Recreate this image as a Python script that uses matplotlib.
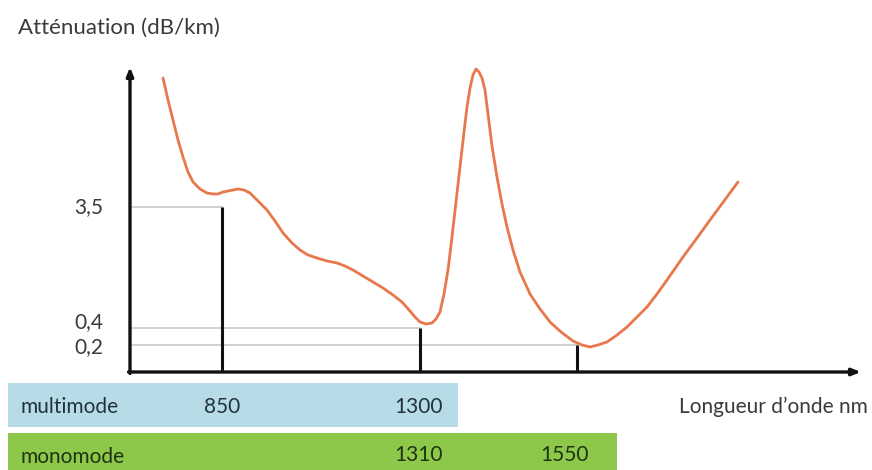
import matplotlib
matplotlib.use("Agg")
import matplotlib.pyplot as plt
from matplotlib.patches import Rectangle

plt.rcParams['font.family'] = ['Lato', 'DejaVu Sans']

# ---- data (schematic units: x along wavelength axis, y = height above the x axis) ----
curve_x = [163, 168, 173, 178, 183, 188, 193, 200, 207, 213, 218, 223, 228, 233, 238, 244,
           250, 258, 267, 275, 283, 292, 300, 308, 317, 327, 337, 345, 353, 363, 373, 383,
           393, 402, 410, 415, 420, 426, 432, 436, 440, 444, 448, 452, 456, 460, 464, 467,
           470, 473, 476, 479, 482, 485, 488, 492, 497, 502, 507, 513, 520, 530, 540, 550,
           561, 573, 582, 590, 598, 607, 617, 627, 637, 647, 657, 667, 683, 697, 710, 724, 738]
curve_y = [294, 272, 252, 232, 215, 200, 190, 183, 179, 178, 178, 180, 181, 182, 183, 182,
           179, 171, 162, 151, 139, 129, 122, 117, 114, 111, 109, 106, 102, 96, 90, 84,
           77, 70, 61, 55, 50, 48, 49, 53, 60, 78, 102, 135, 170, 205, 240, 265,
           284, 297, 303, 300, 294, 282, 258, 226, 195, 168, 145, 122, 100, 78, 63, 50,
           40, 31, 27, 25, 27, 30, 37, 45, 55, 65, 78, 92, 115, 134, 152, 171, 190]

tick_levels = [165, 44, 27]
tick_labels = ['3,5', '0,4', '0,2']
marker_x = [222, 420, 577]          # positions of 850, 1300/1310, 1550
marker_top = [165, 44, 27]

mm_labels = ['850', '1300']
mm_pos = [222, 419]
sm_labels = ['1310', '1550']
sm_pos = [419, 565]

# ---- figure ----
fig = plt.figure(figsize=(8.72, 4.70), dpi=100)
ax = fig.add_axes([0, 0, 1, 1])
ax.set_xlim(0, 872)
ax.set_ylim(-98, 372)
ax.axis('off')

txt = '#3a3a3a'
x0 = 130

# grey reference lines
for lvl, mx in zip(tick_levels, marker_x):
    ax.plot([x0, mx], [lvl, lvl], color='#c4c4c4', lw=1.1, zorder=1)
# vertical black markers
for mx, top in zip(marker_x, marker_top):
    ax.plot([mx, mx], [0, top], color='#111111', lw=2.2, zorder=2, solid_capstyle='butt')

# axes arrows
ax.annotate('', xy=(x0, 305), xytext=(x0, -1.5),
            arrowprops=dict(arrowstyle='-|>,head_length=0.5,head_width=0.2', color='#111111', lw=2.4,
                            shrinkA=0, shrinkB=0), zorder=3)
ax.annotate('', xy=(861, 0), xytext=(x0 - 1.5, 0),
            arrowprops=dict(arrowstyle='-|>,head_length=0.5,head_width=0.2', color='#111111', lw=2.4,
                            shrinkA=0, shrinkB=0), zorder=3)

# curve
ax.plot(curve_x, curve_y, color='#e8774c', lw=2.0, solid_joinstyle='round',
        solid_capstyle='round', zorder=4)

# tick labels
for lvl, lab, dy in zip(tick_levels, tick_labels, [0, 6, -2]):
    ax.text(103, lvl + dy, lab, ha='right', va='center', fontsize=15, color=txt)

# titles
ax.text(18, 344, 'Atténuation (dB/km)', ha='left', va='center', fontsize=16, color=txt)
ax.text(868, -35, 'Longueur d\u2019onde nm', ha='right', va='center', fontsize=15, color=txt)

# category bands
ax.add_patch(Rectangle((8, -55), 450, 44, facecolor='#b7dce7', edgecolor='none', zorder=0))
ax.add_patch(Rectangle((8, -98), 609, 37, facecolor='#8dc84b', edgecolor='none', zorder=0))
ax.text(20, -35, 'multimode', ha='left', va='center', fontsize=15, color='#22343a')
ax.text(20, -85, 'monomode', ha='left', va='center', fontsize=15, color='#1f3310')
for lab, p in zip(mm_labels, mm_pos):
    ax.text(p, -35, lab, ha='center', va='center', fontsize=15, color='#22343a')
for lab, p in zip(sm_labels, sm_pos):
    ax.text(p, -83, lab, ha='center', va='center', fontsize=15, color='#1f3310')

fig.savefig('out.png', dpi=100)
